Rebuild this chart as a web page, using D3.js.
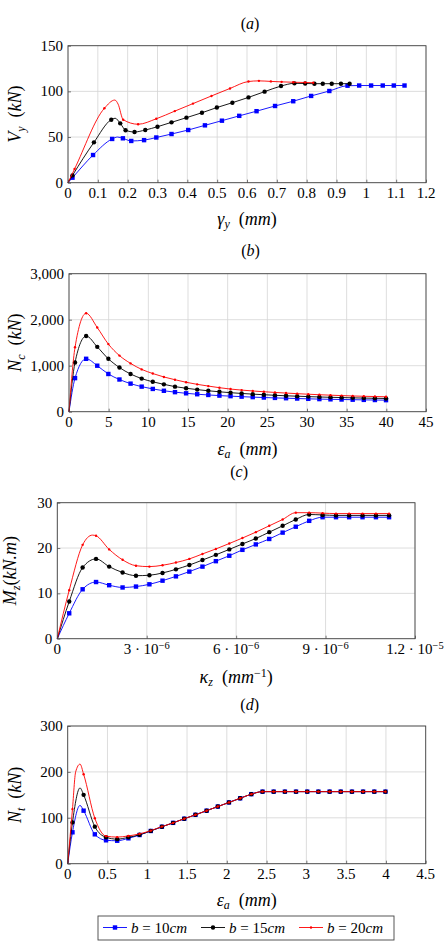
<!DOCTYPE html>
<html><head><meta charset="utf-8">
<script src="https://cdn.jsdelivr.net/npm/d3@7"></script>
<style>
body{margin:0;background:#fff}
svg text{font-family:"Liberation Serif","Times New Roman","DejaVu Serif",serif}
</style></head><body>
<svg id="fig" width="445" height="944"></svg>
<script>
// ---- (a) V_y vs gamma_y
var aX10 = [0, 0.015, 0.084, 0.148, 0.184, 0.212, 0.255, 0.296, 0.347, 0.403, 0.459, 0.516, 0.574, 0.632, 0.694, 0.755, 0.815, 0.876, 0.937, 0.976, 1.016, 1.055, 1.092, 1.128]
var aY10 = [0, 5.5, 30.3, 47.9, 48.6, 45.7, 46.6, 49.5, 53.3, 57.7, 62.8, 67.9, 73.2, 78.3, 84, 89.2, 95, 100.4, 106.2, 106.4, 106.4, 106.4, 106.4, 106.4]
var aX15 = [0, 0.015, 0.087, 0.145, 0.175, 0.193, 0.223, 0.259, 0.3, 0.347, 0.397, 0.449, 0.499, 0.551, 0.605, 0.659, 0.714, 0.759, 0.795, 0.826, 0.854, 0.884, 0.915, 0.944]
var aY15 = [0, 8, 44.2, 69, 65, 57.5, 55.5, 57.7, 61.3, 66.1, 71.2, 76.6, 82.3, 87.6, 93.4, 99.7, 105.8, 108.8, 108.6, 108.4, 108.4, 108.4, 108.4, 108.4]
var aX20 = [0, 0.022, 0.122, 0.185, 0.235, 0.296, 0.358, 0.419, 0.481, 0.543, 0.605, 0.64, 0.68, 0.716, 0.755, 0.795, 0.822]
var aY20 = [0, 15, 81.5, 69, 64, 70, 78.4, 86.6, 95, 103.2, 110.8, 111.5, 110.9, 110.4, 110, 109.7, 109.5]
// unmarked points of the curves (peaks between markers)
var aCurve10 = [[0.166, 50]]
var aCurve15 = [[0.158, 70.6]]
var aCurve20 = [[0.157, 90.5], [0.168, 86]]

// ---- (b) N_c vs eps_a
var bX = [0, 0.76, 2.16, 3.56, 4.96, 6.36, 7.76, 9.16, 10.56, 11.96, 13.36, 14.76, 16.16, 17.56, 18.96, 20.36, 21.76, 23.16, 24.56, 25.96, 27.36, 28.76, 30.16, 31.56, 32.96, 34.36, 35.76, 37.16, 38.56, 39.96]
var bY10 = [0, 730, 1150, 1000, 820, 700, 610, 545, 495, 455, 425, 400, 380, 364, 350, 338, 327, 317, 308, 300, 293, 286, 280, 274, 269, 265, 261, 257, 254, 251]
var bY15 = [0, 1070, 1645, 1410, 1150, 960, 820, 720, 650, 595, 545, 510, 480, 455, 433, 413, 397, 382, 369, 357, 346, 337, 328, 320, 313, 307, 301, 296, 292, 288]
var bY20 = [0, 1400, 2140, 1830, 1470, 1220, 1050, 920, 830, 755, 695, 640, 595, 557, 522, 492, 470, 451, 434, 419, 405, 392, 380, 369, 359, 350, 342, 335, 330, 325]

// ---- (c) M_z vs kappa_z  (x in 1e-6 mm^-1)
var cX = [0, 0.4, 0.85, 1.3, 1.74, 2.19, 2.64, 3.09, 3.53, 3.98, 4.43, 4.87, 5.32, 5.77, 6.21, 6.66, 7.11, 7.56, 8.0, 8.45, 8.9, 9.35, 9.79, 10.24, 10.69, 11.13]
var cY10 = [0, 5.6, 10.9, 12.5, 11.8, 11.3, 11.5, 12.0, 12.8, 13.75, 14.8, 15.9, 17.1, 18.3, 19.6, 20.8, 22.0, 23.4, 24.7, 26.0, 26.8, 26.8, 26.8, 26.8, 26.8, 26.8]
var cY15 = [0, 8.2, 15.7, 17.6, 15.9, 14.6, 13.9, 14.0, 14.5, 15.3, 16.25, 17.35, 18.5, 19.7, 20.9, 22.1, 23.5, 24.9, 26.3, 27.4, 27.3, 27.2, 27.2, 27.2, 27.2, 27.2]
var cY20 = [0, 10.7, 20.7, 22.7, 19.7, 17.4, 16.1, 15.9, 16.2, 16.8, 17.6, 18.7, 19.8, 21.0, 22.2, 23.5, 24.9, 26.3, 27.8, 27.8, 27.7, 27.6, 27.6, 27.6, 27.6, 27.6]
var cCurve20 = [[1.18, 22.85]]

// ---- (d) N_t vs eps_a
var dX = [0, 0.06, 0.2, 0.341, 0.482, 0.622, 0.763, 0.903, 1.044, 1.184, 1.325, 1.465, 1.606, 1.746, 1.887, 2.027, 2.168, 2.308, 2.449, 2.589, 2.73, 2.87, 3.011, 3.151, 3.292, 3.432, 3.573, 3.713, 3.854, 3.994]
var dY10 = [0, 68.4, 115.5, 64, 51, 50, 55.3, 62.5, 71.3, 80.5, 89, 98, 106.5, 115.5, 124.5, 133.5, 142.5, 151.5, 157, 157, 157, 157, 157, 157, 157, 157, 157, 157, 157, 157]
var dY15 = [0, 90, 150, 80.7, 57.5, 53.5, 57.5, 63, 71.5, 80.5, 89, 98, 106.5, 115.5, 124.5, 133.5, 142.5, 151.5, 157, 157, 157, 157, 157, 157, 157, 157, 157, 157, 157, 157]
var dY20 = [0, 119, 195, 99, 60, 58, 60.5, 65, 72, 80.8, 89, 98, 106.5, 115.5, 124.5, 133.5, 142.5, 151.5, 157, 157, 157, 157, 157, 157, 157, 157, 157, 157, 157, 157]
var dCurve10 = [[0.155, 127]]
var dCurve15 = [[0.155, 165]]
var dCurve20 = [[0.1, 200], [0.155, 217]]

var legendLabels = ['b = 10cm', 'b = 15cm', 'b = 20cm']
var colors = ['#0000ff', '#000000', '#ff0000']

var svg = d3.select('#fig')
var TICKFS = '15px', LABFS = '18px', SUBFS = '12px'

function zip(xs, ys) { return xs.map((x, i) => [x, ys[i]]) }

function drawMark(g, k, px, py) {
    if (k == 0) {
        g.append('rect').attr('x', px - 2.2).attr('y', py - 2.2).attr('width', 4.4).attr('height', 4.4).attr('fill', colors[0])
    } else if (k == 1) {
        g.append('circle').attr('cx', px).attr('cy', py).attr('r', 2.2).attr('fill', colors[1])
    } else {
        g.append('circle').attr('cx', px).attr('cy', py).attr('r', 1.2).attr('fill', colors[2])
    }
}

function panel(p) {
    var x = d3.scaleLinear().domain(p.xd).range([p.l, p.r])
    var y = d3.scaleLinear().domain(p.yd).range([p.b, p.t])
    var g = svg.append('g')

    // grid
    g.selectAll('.gx').data(p.xt).enter().append('line')
        .attr('x1', d => x(d)).attr('x2', d => x(d)).attr('y1', p.t).attr('y2', p.b)
        .attr('stroke', '#d4d4d4').attr('stroke-width', 0.8)
    g.selectAll('.gy').data(p.yt).enter().append('line')
        .attr('y1', d => y(d)).attr('y2', d => y(d)).attr('x1', p.l).attr('x2', p.r)
        .attr('stroke', '#d4d4d4').attr('stroke-width', 0.8)

    // axes (ticks inside, pgfplots style)
    g.append('g').attr('transform', 'translate(0,' + p.b + ')')
        .call(d3.axisBottom(x).tickValues(p.xt).tickSize(-3).tickFormat(''))
        .call(a => a.select('.domain').remove())
    g.append('g').attr('transform', 'translate(' + p.l + ',0)')
        .call(d3.axisLeft(y).tickValues(p.yt).tickSize(-3).tickFormat(''))
        .call(a => a.select('.domain').remove())
    g.selectAll('.tick line').attr('stroke', '#555').attr('stroke-width', 0.8)

    // tick labels
    p.xt.forEach(function (v, i) {
        var t = g.append('text').attr('x', x(v)).attr('y', p.b + 15.5)
            .attr('text-anchor', 'middle').style('font-size', TICKFS)
        p.xfmt(t, v, i)
    })
    g.selectAll('.yl').data(p.yt).enter().append('text')
        .attr('x', p.l - 5).attr('y', d => y(d) + 5)
        .attr('text-anchor', 'end').style('font-size', TICKFS)
        .text(p.yfmt)

    // series
    var line = d3.line().x(d => x(d[0])).y(d => y(d[1])).curve(d3.curveMonotoneX)
    p.series.forEach(function (s, k) {
        var pts = zip(s.x, s.y).concat(s.extra || []).sort((a, b) => a[0] - b[0])
        g.append('path').attr('d', line(pts)).attr('fill', 'none')
            .attr('stroke', colors[k]).attr('stroke-width', 0.9)
        var mg = g.append('g')
        s.x.forEach(function (v, i) { if (i > 0) drawMark(mg, k, x(v), y(s.y[i])) })
    })

    // frame
    g.append('rect').attr('x', p.l).attr('y', p.t).attr('width', p.r - p.l).attr('height', p.b - p.t)
        .attr('fill', 'none').attr('stroke', '#444').attr('stroke-width', 0.9)

    // title
    var tt = g.append('text').attr('x', (p.l + p.r) / 2 + 3).attr('y', p.titleY).attr('text-anchor', 'middle').style('font-size', '16px')
    tt.append('tspan').text('(')
    tt.append('tspan').style('font-style', 'italic').text(p.title)
    tt.append('tspan').text(')')

    // axis labels
    p.xlab(g.append('text').attr('x', (p.l + p.r) / 2).attr('y', p.xlabY).attr('text-anchor', 'middle').style('font-size', LABFS))
    p.ylab(g.append('text').attr('transform', 'translate(' + p.ylabX + ',' + (p.t + p.b) / 2 + ') rotate(-90)')
        .attr('text-anchor', 'middle').style('font-size', LABFS))
}

function sub(t, main, s, rest) {
    t.append('tspan').style('font-style', 'italic').text(main)
    t.append('tspan').style('font-style', 'italic').style('font-size', SUBFS).attr('dy', 3.5).text(s)
    var r = t.append('tspan').attr('dy', -3.5)
    r.append('tspan').text(rest[0])
    r.append('tspan').style('font-style', 'italic').text(rest[1])
    r.append('tspan').text(rest[2])
}

var plain = (t, v) => t.text(v)
var comma = d3.format(',')

panel({
    l: 68, r: 426, t: 45.7, b: 182.7, xd: [0, 1.2], yd: [0, 150],
    xt: [0, 0.1, 0.2, 0.3, 0.4, 0.5, 0.6, 0.7, 0.8, 0.9, 1, 1.1, 1.2], yt: [0, 50, 100, 150],
    xfmt: plain, yfmt: d => d, title: 'a', titleY: 28.5, xlabY: 224.5, ylabX: 21,
    xlab: t => sub(t, 'γ', 'y', ['\u2002(', 'mm', ')']),
    ylab: t => sub(t, 'V', 'y', ['\u2002(', 'kN', ')']),
    series: [{x: aX10, y: aY10, extra: aCurve10}, {x: aX15, y: aY15, extra: aCurve15}, {x: aX20, y: aY20, extra: aCurve20}]
})

panel({
    l: 69, r: 426, t: 273.7, b: 411.7, xd: [0, 45], yd: [0, 3000],
    xt: [0, 5, 10, 15, 20, 25, 30, 35, 40, 45], yt: [0, 1000, 2000, 3000],
    xfmt: plain, yfmt: comma, title: 'b', titleY: 256, xlabY: 454.5, ylabX: 21,
    xlab: t => sub(t, 'ε', 'a', ['\u2002(', 'mm', ')']),
    ylab: t => sub(t, 'N', 'c', ['\u2002(', 'kN', ')']),
    series: [{x: bX, y: bY10}, {x: bX, y: bY15}, {x: bX, y: bY20}]
})

panel({
    l: 57.3, r: 415, t: 502.7, b: 638.7, xd: [0, 12], yd: [0, 30],
    xt: [0, 3, 6, 9, 12], yt: [0, 10, 20, 30],
    xfmt: function (t, v) {
        if (v == 0) { t.text('0'); return }
        var m = v == 12 ? ['1.2', '−5'] : [String(v), '−6']
        t.append('tspan').text(m[0] + ' · 10')
        t.append('tspan').style('font-size', '10.5px').attr('dy', -5.5).text(m[1])
    },
    yfmt: d => d, title: 'c', titleY: 477, xlabY: 682.5, ylabX: 16,
    xlab: t => {
        t.append('tspan').style('font-style', 'italic').text('κ')
        t.append('tspan').style('font-style', 'italic').style('font-size', SUBFS).attr('dy', 3.5).text('z')
        t.append('tspan').attr('dy', -3.5).text('\u2002(')
        t.append('tspan').style('font-style', 'italic').text('mm')
        t.append('tspan').style('font-size', SUBFS).attr('dy', -6).text('−1')
        t.append('tspan').attr('dy', 6).text(')')
    },
    ylab: t => sub(t, 'M', 'z', ['(', 'kN.m', ')']),
    series: [{x: cX, y: cY10}, {x: cX, y: cY15}, {x: cX, y: cY20, extra: cCurve20}]
})

panel({
    l: 67.7, r: 425.7, t: 726, b: 863.7, xd: [0, 4.5], yd: [0, 300],
    xt: [0, 0.5, 1, 1.5, 2, 2.5, 3, 3.5, 4, 4.5], yt: [0, 100, 200, 300],
    xfmt: plain, yfmt: d => d, title: 'd', titleY: 710, xlabY: 905.5, ylabX: 21,
    xlab: t => sub(t, 'ε', 'a', ['\u2002(', 'mm', ')']),
    ylab: t => sub(t, 'N', 't', ['\u2002(', 'kN', ')']),
    series: [{x: dX, y: dY10, extra: dCurve10}, {x: dX, y: dY15, extra: dCurve15}, {x: dX, y: dY20, extra: dCurve20}]
})

// legend
var leg = svg.append('g')
leg.append('rect').attr('x', 98).attr('y', 916).attr('width', 296).attr('height', 24)
    .attr('fill', '#fff').attr('stroke', '#444').attr('stroke-width', 0.9)
var legX = [103, 201, 299]
legendLabels.forEach(function (lab, k) {
    leg.append('line').attr('x1', legX[k]).attr('x2', legX[k] + 24).attr('y1', 927.5).attr('y2', 927.5)
        .attr('stroke', colors[k]).attr('stroke-width', 0.9)
    drawMark(leg, k, legX[k] + 12, 927.5)
    var parts = lab.split(' = ')
    var t = leg.append('text').attr('x', legX[k] + 28).attr('y', 932.5).style('font-size', '15px')
    t.append('tspan').style('font-style', 'italic').text(parts[0])
    t.append('tspan').text(' = ' + parts[1].replace('cm', ''))
    t.append('tspan').style('font-style', 'italic').text('cm')
})
</script>
</body></html>
